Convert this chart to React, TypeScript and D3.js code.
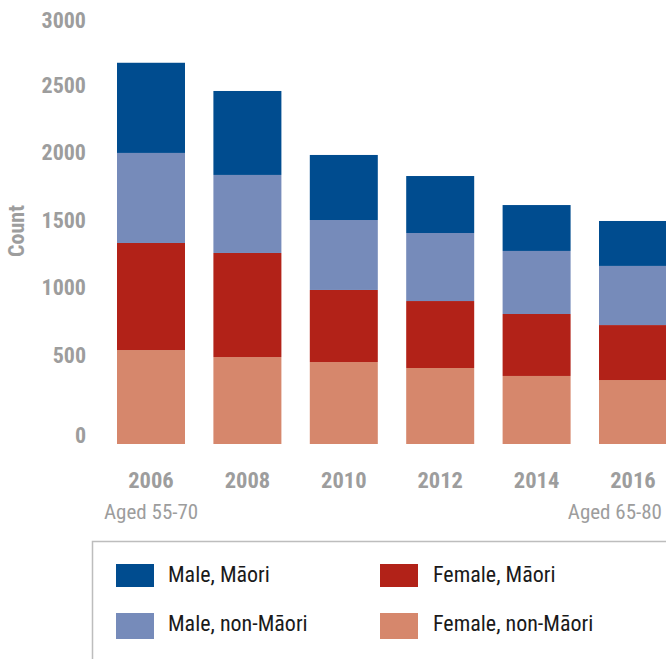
import React from "react";
import * as d3 from "d3";

const years = ["2006", "2008", "2010", "2012", "2014", "2016"];
const femaleNonMaori = [696, 644, 607, 563, 504, 474];
const femaleMaori = [793, 771, 534, 496, 459, 407];
const maleNonMaori = [667, 578, 518, 504, 467, 438];
const maleMaori = [668, 622, 482, 422, 340, 333];
const yTicks = [0, 500, 1000, 1500, 2000, 2500, 3000];
const seriesKeys = ["femaleNonMaori", "femaleMaori", "maleNonMaori", "maleMaori"];
const seriesNames = ["Female, non-Māori", "Female, Māori", "Male, non-Māori", "Male, Māori"];
const seriesColors = ["#D6876C", "#B22218", "#768BBA", "#004C8F"];

const FONT = "'Liberation Sans Narrow', 'Arial Narrow', 'Roboto Condensed', 'Liberation Sans', sans-serif";
const GRAY = "#9d9d9d";

export default function App() {
  const W = 666;
  const H = 659;
  const rows = years.map((y, i) => ({
    year: y,
    femaleNonMaori: femaleNonMaori[i],
    femaleMaori: femaleMaori[i],
    maleNonMaori: maleNonMaori[i],
    maleMaori: maleMaori[i],
  }));
  const stacked = d3.stack<any>().keys(seriesKeys)(rows);

  const x = d3
    .scaleBand<string>()
    .domain(years)
    .range([102.8, 681.2])
    .paddingInner(0.2946)
    .paddingOuter(0.1473);
  const y = d3.scaleLinear().domain([0, 3000]).range([444, 39]);

  // labels sit above their value line; the baseline label sits just above the axis bottom
  const labelY = (v: number) => (v === 0 ? y(0) - 8.5 : Math.max(20.5, y(v) - 21.5));

  const legendItems = [
    { name: seriesNames[3], color: seriesColors[3], lx: 116, ly: 564, h: 23, tx: 168, ty: 582 },
    { name: seriesNames[1], color: seriesColors[1], lx: 380, ly: 564, h: 23, tx: 433, ty: 582 },
    { name: seriesNames[2], color: seriesColors[2], lx: 116, ly: 613, h: 26, tx: 168, ty: 631 },
    { name: seriesNames[0], color: seriesColors[0], lx: 380, ly: 613, h: 26, tx: 433, ty: 631 },
  ];

  return (
    <svg
      width={W}
      height={H}
      style={{ position: "absolute", left: 0, top: 0, background: "#fff" }}
      fontFamily={FONT}
    >
      <rect x={0} y={0} width={W} height={H} fill="#fff" />
      {stacked.map((s, si) => (
        <g key={s.key} fill={seriesColors[si]}>
          {s.map((d: any, i: number) => (
            <rect
              key={i}
              x={x(years[i])}
              y={y(d[1])}
              width={x.bandwidth()}
              height={y(d[0]) - y(d[1])}
            />
          ))}
        </g>
      ))}
      {yTicks.map((t) => (
        <text
          key={t}
          x={86}
          y={labelY(t)}
          textAnchor="end"
          dominantBaseline="central"
          fontSize={22}
          fontWeight="bold"
          fill={GRAY}
        >
          {t}
        </text>
      ))}
      <text
        transform="translate(16,231) rotate(-90)"
        textAnchor="middle"
        dominantBaseline="central"
        fontSize={22}
        fontWeight="bold"
        fill={GRAY}
      >
        Count
      </text>
      {years.map((yr) => (
        <text
          key={yr}
          x={(x(yr) as number) + x.bandwidth() / 2}
          y={488}
          textAnchor="middle"
          fontSize={22.5}
          fontWeight="bold"
          fill={GRAY}
        >
          {yr}
        </text>
      ))}
      <text x={104} y={519} fontSize={21} fill={GRAY}>
        Aged 55-70
      </text>
      <text x={662} y={519} textAnchor="end" fontSize={21} fill={GRAY}>
        Aged 65-80
      </text>
      <rect x={92.5} y={541.5} width={700} height={200} fill="none" stroke="#bdbdbd" strokeWidth={1.5} />
      {legendItems.map((it) => (
        <g key={it.name}>
          <rect x={it.lx} y={it.ly} width={38} height={it.h} fill={it.color} />
          <text x={it.tx} y={it.ty} fontSize={22} fill="#1a1a1a">
            {it.name}
          </text>
        </g>
      ))}
    </svg>
  );
}
